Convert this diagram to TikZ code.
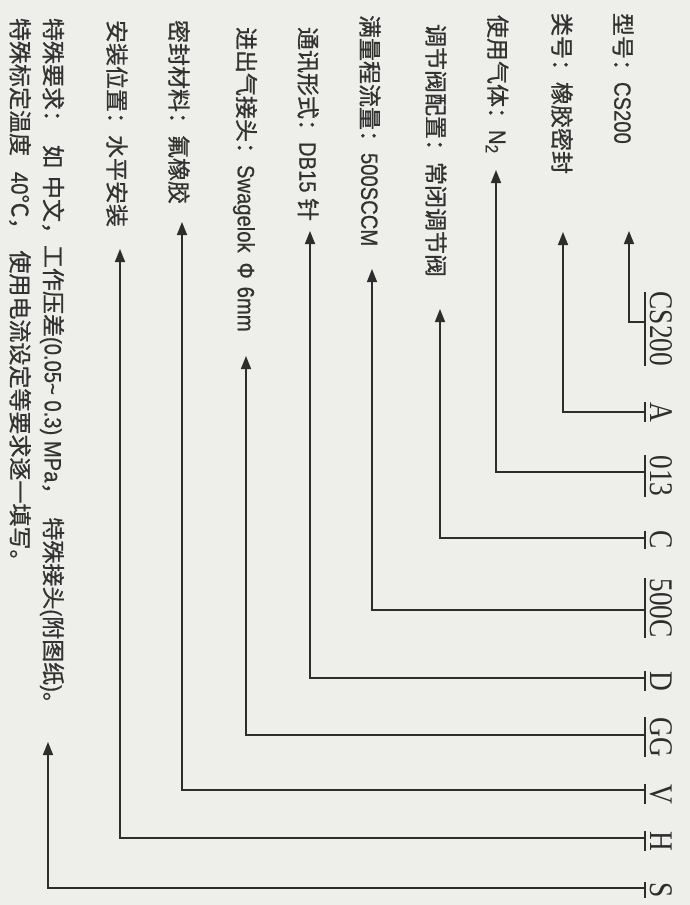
\documentclass[tikz,border=0pt]{standalone}
\usepackage{fontspec}
\setmainfont{Liberation Sans}[FakeBold=0.6,FakeStretch=0.86]
\newfontfamily\cjkfont{Noto Sans CJK SC}[FakeBold=0.8]
\newfontfamily\codefont[FakeStretch=0.83]{Liberation Serif}
\usetikzlibrary{arrows.meta}
\definecolor{bg}{RGB}{238,238,235}
\definecolor{ink}{RGB}{45,45,45}
\definecolor{txt}{RGB}{50,50,50}
\newcommand\zh[1]{{\cjkfont\fontsize{23}{25}\selectfont #1}}
\newcommand\subtwo{\raisebox{-0.15em}{\fontsize{18}{18}\selectfont 2}}
\begin{document}
\begin{tikzpicture}[x=1pt,y=-1pt,
  lbl/.style={rotate=-90,anchor=west,inner sep=0,outer sep=0,text=txt,font=\fontsize{23.5}{25}\selectfont},
  code/.style={rotate=-90,anchor=base,inner sep=0,outer sep=0,text=ink,font=\codefont\fontsize{33}{36}\selectfont},
  uline/.style={draw=ink,line width=1.5pt},
  conn/.style={draw=ink,line width=1.5pt,-{Triangle[length=13pt,width=10pt]}}]
\fill[bg] (0,0) rectangle (690,905);
\useasboundingbox (0,0) rectangle (690,905);

% labels
\node[lbl] (l1) at (623,13) {\zh{型号：}CS200};
\node[lbl] (l2) at (562,13) {\zh{类号：橡胶密封}};
\node[lbl] (l3) at (497,15) {\zh{使用气体：}N\subtwo};
\node[lbl] (l4) at (436,24) {\zh{调节阀配置：常闭调节阀}};
\node[lbl] (l5) at (370,15) {\zh{满量程流量：}500SCCM};
\node[lbl] (l6) at (308,27) {\zh{通讯形式：}DB15 \zh{针}};
\node[lbl] (l7) at (245,27) {\zh{进出气接头：}Swagelok\hspace{10pt}Φ\hspace{8pt}6mm};
\node[lbl] (l8) at (179,20) {\zh{密封材料：氟橡胶}};
\node[lbl] (l9) at (117,20) {\zh{安装位置：水平安装}};
\node[lbl] (l10) at (52,18) {\zh{特殊要求：}\hspace{12pt}\zh{如}\hspace{8pt}\zh{中文，}\zh{工作压差}(0.05\textasciitilde{} 0.3) MPa\zh{，}\hspace{12pt}\zh{特殊接头}(\zh{附图纸})\zh{。}};
\node[lbl] (l11) at (20,18) {\zh{特殊标定温度}\hspace{16pt}40\zh{℃，}\hspace{10pt}\zh{使用电流设定等要求逐一填写。}};

% codes
\node[code] (c1) at (650,329) {CS200};
\node[code] (c2) at (650,412) {A};
\node[code] (c3) at (650,476) {013};
\node[code] (c4) at (650,540) {C};
\node[code] (c5) at (650,608) {500C};
\node[code] (c6) at (650,681) {D};
\node[code] (c7) at (650,737) {GG};
\node[code] (c8) at (650,794) {V};
\node[code] (c9) at (650,841) {H};
\node[code] (c10) at (650,890) {S};

\foreach \i in {1,...,10}{
  \draw[uline] ([xshift=-5pt]c\i.base west) -- ([xshift=-5pt]c\i.base east);
}

% junctions on the underlines
\coordinate (j1) at (645,322);
\coordinate (j2) at (645,412);
\coordinate (j3) at (645,472);
\coordinate (j4) at (645,538);
\coordinate (j5) at (645,610);
\coordinate (j6) at (645,678);
\coordinate (j7) at (645,735);
\coordinate (j8) at (645,790);
\coordinate (j9) at (645,838);
\coordinate (j10) at (645,888);

% arrow tips
\coordinate (t1) at (629,231);
\coordinate (t2) at (563,232);
\coordinate (t3) at (496,170);
\coordinate (t4) at (440,309);
\coordinate (t5) at (372,269);
\coordinate (t6) at (310,231);
\coordinate (t7) at (246,356);
\coordinate (t8) at (182,222);
\coordinate (t9) at (120,249);
\coordinate (t10) at (48,742);

\foreach \i in {1,...,10}{
  \draw[conn] (j\i) -| (t\i);
}
\end{tikzpicture}
\end{document}
